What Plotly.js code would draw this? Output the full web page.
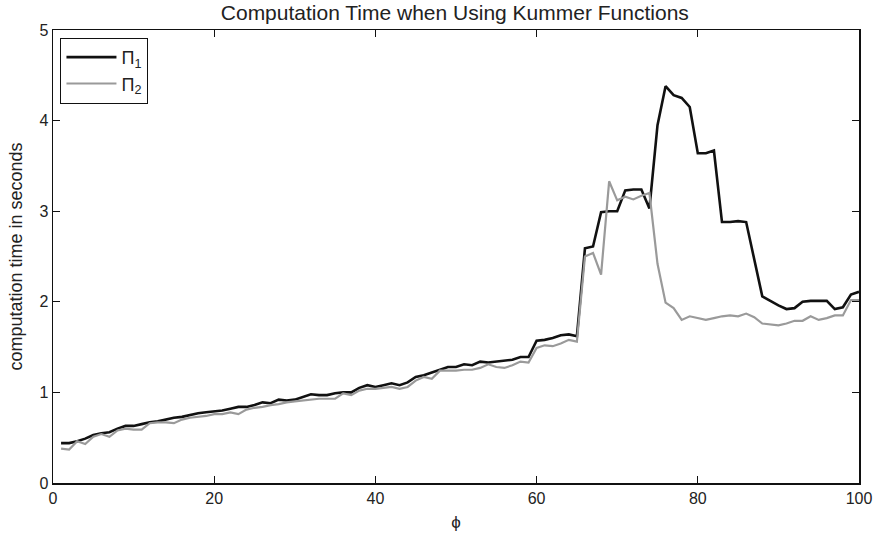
<!DOCTYPE html>
<html>
<head>
<meta charset="utf-8">
<script src="https://cdn.plot.ly/plotly-3.0.1.min.js"></script>
<style>
  html, body { margin: 0; padding: 0; background: #fff; }
  #chart { width: 878px; height: 545px; }
</style>
</head>
<body>
<div id="chart"></div>
<script>
// phi values 1..100
const phi = [
  1,2,3,4,5,6,7,8,9,10,11,12,13,14,15,16,17,18,19,20,
  21,22,23,24,25,26,27,28,29,30,31,32,33,34,35,36,37,38,39,40,
  41,42,43,44,45,46,47,48,49,50,51,52,53,54,55,56,57,58,59,60,
  61,62,63,64,65,66,67,68,69,70,71,72,73,74,75,76,77,78,79,80,
  81,82,83,84,85,86,87,88,89,90,91,92,93,94,95,96,97,98,99,100
];

// computation time (s) for Pi_1
const timePi1 = [
  0.44,0.44,0.46,0.49,0.53,0.55,0.56,0.60,0.63,0.63,
  0.65,0.67,0.68,0.70,0.72,0.73,0.75,0.77,0.78,0.79,
  0.80,0.82,0.84,0.84,0.86,0.89,0.88,0.92,0.91,0.92,
  0.95,0.98,0.97,0.97,0.99,1.00,1.00,1.05,1.08,1.06,
  1.08,1.10,1.08,1.11,1.17,1.19,1.22,1.25,1.28,1.28,
  1.31,1.30,1.34,1.33,1.34,1.35,1.36,1.39,1.39,1.57,
  1.58,1.60,1.63,1.64,1.62,2.59,2.61,2.99,3.00,3.00,
  3.23,3.24,3.24,3.03,3.95,4.38,4.28,4.25,4.15,3.64,
  3.64,3.67,2.88,2.88,2.89,2.88,2.46,2.06,2.01,1.96,
  1.92,1.93,2.00,2.01,2.01,2.01,1.92,1.94,2.08,2.11
];

// computation time (s) for Pi_2
const timePi2 = [
  0.38,0.37,0.46,0.43,0.51,0.54,0.51,0.58,0.60,0.59,
  0.59,0.66,0.67,0.67,0.66,0.70,0.72,0.73,0.74,0.76,
  0.76,0.78,0.76,0.81,0.83,0.84,0.86,0.87,0.89,0.90,
  0.91,0.92,0.93,0.93,0.93,0.99,0.97,1.02,1.04,1.04,
  1.05,1.06,1.04,1.06,1.13,1.17,1.15,1.24,1.24,1.24,
  1.25,1.25,1.27,1.31,1.28,1.27,1.30,1.34,1.33,1.49,
  1.52,1.51,1.54,1.58,1.56,2.50,2.54,2.30,3.33,3.12,
  3.16,3.13,3.17,3.20,2.42,1.99,1.93,1.80,1.84,1.82,
  1.80,1.82,1.84,1.85,1.84,1.87,1.83,1.76,1.75,1.74,
  1.76,1.79,1.79,1.84,1.80,1.82,1.85,1.85,2.02,2.02
];

const seriesNames = ['\u03A0<sub>1</sub>', '\u03A0<sub>2</sub>'];
const xTicks = [0, 20, 40, 60, 80, 100];
const yTicks = [0, 1, 2, 3, 4, 5];

const font = 'Liberation Sans, Arial, sans-serif';

const traces = [
  {
    x: phi, y: timePi1, name: seriesNames[0], type: 'scatter', mode: 'lines',
    line: { color: '#111111', width: 2.6 }
  },
  {
    x: phi, y: timePi2, name: seriesNames[1], type: 'scatter', mode: 'lines',
    line: { color: '#9a9a9a', width: 2.2 }
  }
];

const axisCommon = {
  showgrid: false,
  zeroline: false,
  showline: true,
  linecolor: '#111',
  linewidth: 1.5,
  mirror: 'ticks',
  ticks: 'inside',
  ticklen: 7,
  tickwidth: 1.2,
  tickcolor: '#111',
  tickfont: { family: font, size: 16, color: '#222' }
};

const layout = {
  width: 878,
  height: 545,
  paper_bgcolor: '#ffffff',
  plot_bgcolor: '#ffffff',
  margin: { l: 53, r: 19, t: 30, b: 62 },
  title: {
    text: 'Computation Time when Using Kummer Functions',
    font: { family: font, size: 21, color: '#222' },
    x: 0.518, xanchor: 'center', y: 0.977, yanchor: 'middle'
  },
  xaxis: Object.assign({}, axisCommon, {
    range: [0, 100],
    tickvals: xTicks,
    ticktext: xTicks.map(String),
    title: { text: '\u03D5', font: { family: font, size: 17, color: '#222' }, standoff: 10 }
  }),
  yaxis: Object.assign({}, axisCommon, {
    range: [0, 5],
    tickvals: yTicks,
    ticktext: yTicks.map(String),
    title: { text: 'computation time in seconds', font: { family: font, size: 18, color: '#222' }, standoff: 12 }
  }),
  showlegend: true,
  legend: {
    x: 0.009, y: 0.983, xanchor: 'left', yanchor: 'top',
    bgcolor: '#ffffff',
    bordercolor: '#111',
    borderwidth: 1.2,
    font: { family: font, size: 18, color: '#222' },
    tracegroupgap: 4,
    itemwidth: 50
  }
};

Plotly.newPlot('chart', traces, layout, { staticPlot: true, displayModeBar: false });
</script>
</body>
</html>
